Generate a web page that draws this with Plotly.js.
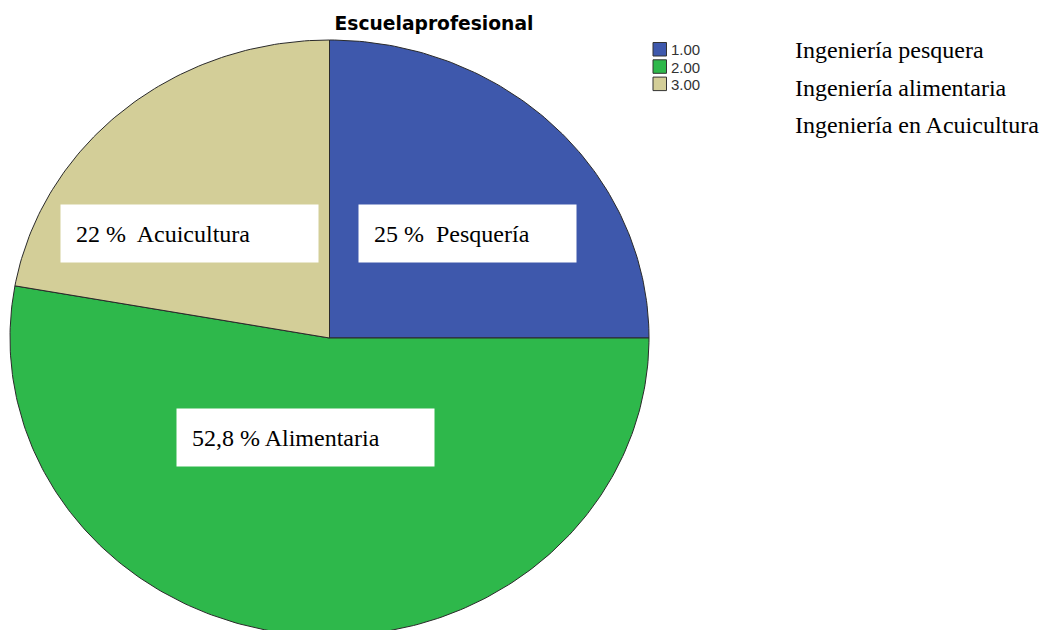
<!DOCTYPE html>
<html>
<head>
<meta charset="utf-8">
<script src="https://cdn.plot.ly/plotly-3.0.1.min.js"></script>
<style>html,body{margin:0;padding:0;background:#fff;}#chart{width:1043px;height:630px;}</style>
</head>
<body>
<div id="chart"></div>
<script>
// ---- data ----
const categories = ["1.00", "2.00", "3.00"];
const schoolNames = ["Ingeniería pesquera", "Ingeniería alimentaria", "Ingeniería en Acuicultura"];
const percentages = [25, 52.8, 22.2];
const sliceLabels = ["25 %  Pesquería", "52,8 % Alimentaria", "22 %  Acuicultura"];
const sliceColors = ["#3e58ac", "#2eb84b", "#d3ce98"];
const chartTitle = "Escuelaprofesional";

// ---- build elliptical pie slices on the axes (unit circle, unequal axis scales) ----
const total = percentages.reduce((a, b) => a + b, 0);
const traces = [];
let cum = 0;
percentages.forEach((v, i) => {
  const a0 = Math.PI / 2 - 2 * Math.PI * cum / total;
  cum += v;
  const a1 = Math.PI / 2 - 2 * Math.PI * cum / total;
  const steps = Math.max(8, Math.round(400 * v / total));
  const xs = [0], ys = [0];
  for (let k = 0; k <= steps; k++) {
    const a = a0 + (a1 - a0) * k / steps;
    xs.push(Math.cos(a));
    ys.push(Math.sin(a));
  }
  xs.push(0); ys.push(0);
  traces.push({
    type: "scatter", mode: "lines", x: xs, y: ys,
    fill: "toself", fillcolor: sliceColors[i],
    line: {color: "#2a2a2a", width: 1},
    name: categories[i], showlegend: false, hoverinfo: "name"
  });
});

// ---- geometry in pixels -> axis ranges ----
const W = 1043, H = 630;
const cx = 329.5, cy = 338, rx = 319.5, ry = 298;
const xRange = [-cx / rx, (W - cx) / rx];
const yRange = [-(H - cy) / ry, cy / ry];

const serif = "Liberation Serif, Times New Roman, serif";
const annotations = [];
const shapes = [];

// label boxes
const boxPos = [
  {x: 358, y: 233.5, w: 217},
  {x: 176, y: 437.5, w: 257},
  {x: 60, y: 233.5, w: 257}
];
sliceLabels.forEach((t, i) => {
  const b = boxPos[i];
  annotations.push({
    xref: "paper", yref: "paper", x: b.x / W, y: 1 - b.y / H,
    xanchor: "left", yanchor: "middle", showarrow: false,
    text: t, align: "left", valign: "middle",
    width: b.w - 30, height: 27, borderpad: 15, bgcolor: "#ffffff",
    font: {family: serif, size: 24, color: "#000"}
  });
});

// legend (SPSS-style, compact)
const legX = 653, legY0 = 42.5, legStep = 17.3, legSz = 13.5;
categories.forEach((c, i) => {
  const top = legY0 + i * legStep;
  shapes.push({
    type: "rect", xref: "paper", yref: "paper",
    x0: legX / W, x1: (legX + legSz) / W,
    y0: 1 - (top + legSz) / H, y1: 1 - top / H,
    fillcolor: sliceColors[i], line: {color: "#333", width: 1}
  });
  annotations.push({
    xref: "paper", yref: "paper", x: (legX + legSz + 2) / W, y: 1 - (top + legSz / 2 + 0.5) / H,
    xanchor: "left", yanchor: "middle", showarrow: false,
    text: c, font: {family: "Liberation Sans, Arial, sans-serif", size: 15, color: "#333"}
  });
});

// right side names
const nameY = [50, 88, 125];
schoolNames.forEach((t, i) => {
  annotations.push({
    xref: "paper", yref: "paper", x: 793 / W, y: 1 - nameY[i] / H,
    xanchor: "left", yanchor: "middle", showarrow: false,
    text: t, font: {family: serif, size: 24, color: "#000"}
  });
});

const layout = {
  width: W, height: H,
  margin: {l: 0, r: 0, t: 0, b: 0, pad: 0},
  paper_bgcolor: "#fff", plot_bgcolor: "#fff",
  xaxis: {range: xRange, visible: false, fixedrange: true},
  yaxis: {range: yRange, visible: false, fixedrange: true},
  title: {
    text: "<b>" + chartTitle + "</b>",
    x: 434 / W, xanchor: "center", y: 1 - 23 / H, yanchor: "middle",
    font: {family: "DejaVu Sans, Arial, sans-serif", size: 18.7, color: "#000"}
  },
  showlegend: false,
  shapes: shapes,
  annotations: annotations
};

Plotly.newPlot("chart", traces, layout, {displayModeBar: false, staticPlot: true});
</script>
</body>
</html>
